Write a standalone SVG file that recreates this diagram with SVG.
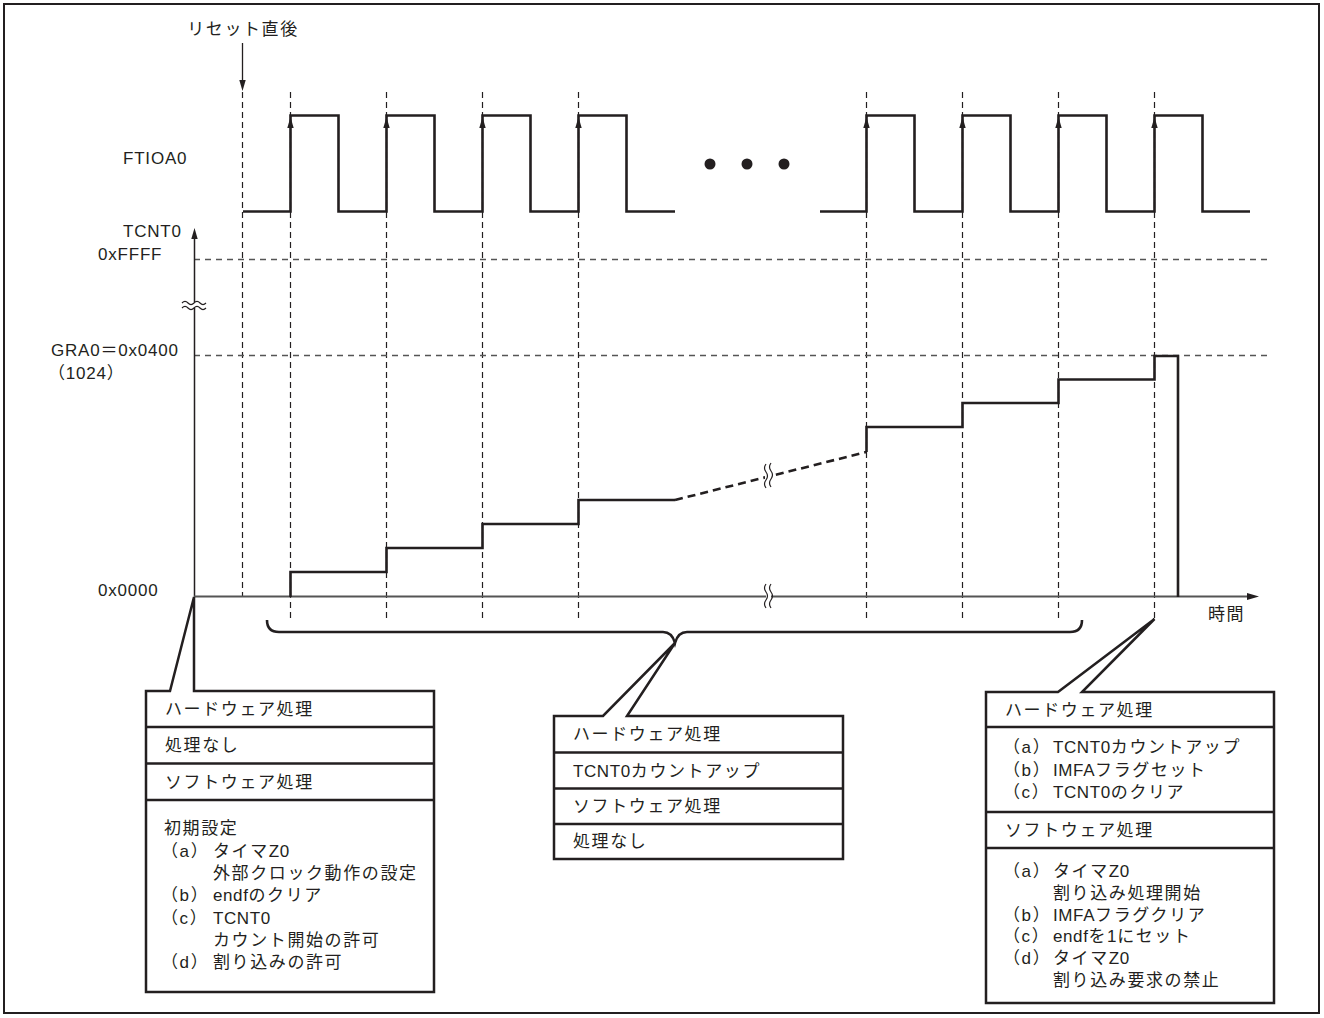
<svg xmlns="http://www.w3.org/2000/svg" width="1324" height="1018" viewBox="0 0 1324 1018">
<style>
.frame{fill:none;stroke:#231f20;stroke-width:2}
.wave{fill:none;stroke:#231f20;stroke-width:2.6;stroke-linejoin:miter}
.vd{fill:none;stroke:#231f20;stroke-width:1.2;stroke-dasharray:6 4}
.hd{fill:none;stroke:#555;stroke-width:1.4;stroke-dasharray:6 5}
.axis{fill:none;stroke:#231f20;stroke-width:1.5}
.xaxis{fill:none;stroke:#555;stroke-width:2}
.box{fill:#fff;stroke:#231f20;stroke-width:2.5;stroke-linejoin:miter}
.sep{stroke:#231f20;stroke-width:2.5}
.lbl{font-family:"Liberation Sans","Noto Sans CJK JP",sans-serif;font-size:17px;letter-spacing:0.8px;fill:#231f20}
.jp{font-family:"Liberation Sans","Noto Sans CJK JP",sans-serif;font-size:17px;letter-spacing:1.6px;fill:#231f20}
.l{font-size:17px;letter-spacing:0.6px}
.ah{fill:#231f20}
</style>
<defs>
<path id="up" d="M0,0 L-3.2,11 L3.2,11 Z" class="ah"/>
</defs>
<rect x="4" y="4" width="1315" height="1009" class="frame"/>

<g id="gridlines">
<line x1="242.5" y1="92" x2="242.5" y2="596" class="vd"/>
<line x1="290.5" y1="92" x2="290.5" y2="618" class="vd"/>
<line x1="386.5" y1="92" x2="386.5" y2="618" class="vd"/>
<line x1="482.5" y1="92" x2="482.5" y2="618" class="vd"/>
<line x1="578.5" y1="92" x2="578.5" y2="618" class="vd"/>
<line x1="866.5" y1="92" x2="866.5" y2="618" class="vd"/>
<line x1="962.5" y1="92" x2="962.5" y2="618" class="vd"/>
<line x1="1058.5" y1="92" x2="1058.5" y2="618" class="vd"/>
<line x1="1154.5" y1="92" x2="1154.5" y2="618" class="vd"/>
<line x1="194" y1="259.5" x2="1270" y2="259.5" class="hd"/>
<line x1="194" y1="355.5" x2="1270" y2="355.5" class="hd"/>
</g>

<g id="reset">
<text x="243" y="35" class="jp" text-anchor="middle">リセット直後</text>
<line x1="242.5" y1="43" x2="242.5" y2="82" stroke="#231f20" stroke-width="1.3"/>
<path d="M242.5,91 L239.3,80 L245.7,80 Z" class="ah"/>
</g>

<g id="ftioa0">
<text x="123" y="164" class="lbl">FTIOA0</text>
<polyline class="wave" points="243,211.5 290.5,211.5 290.5,115.5 338.5,115.5 338.5,211.5 386.5,211.5 386.5,115.5 434.5,115.5 434.5,211.5 482.5,211.5 482.5,115.5 530.5,115.5 530.5,211.5 578.5,211.5 578.5,115.5 626.5,115.5 626.5,211.5 675,211.5"/>
<polyline class="wave" points="820,211.5 866.5,211.5 866.5,115.5 914.5,115.5 914.5,211.5 962.5,211.5 962.5,115.5 1010.5,115.5 1010.5,211.5 1058.5,211.5 1058.5,115.5 1106.5,115.5 1106.5,211.5 1154.5,211.5 1154.5,115.5 1202.5,115.5 1202.5,211.5 1250,211.5"/>
<use href="#up" x="290.5" y="117"/>
<use href="#up" x="386.5" y="117"/>
<use href="#up" x="482.5" y="117"/>
<use href="#up" x="578.5" y="117"/>
<use href="#up" x="866.5" y="117"/>
<use href="#up" x="962.5" y="117"/>
<use href="#up" x="1058.5" y="117"/>
<use href="#up" x="1154.5" y="117"/>
<circle cx="710" cy="164" r="5.5" fill="#231f20"/>
<circle cx="747" cy="164" r="5.5" fill="#231f20"/>
<circle cx="784" cy="164" r="5.5" fill="#231f20"/>
</g>

<g id="axes">
<text x="123" y="237" class="lbl">TCNT0</text>
<text x="98" y="260" class="lbl">0xFFFF</text>
<text x="51" y="356" class="lbl">GRA0＝0x0400</text>
<text x="48" y="379" class="lbl" letter-spacing="0">（1024）</text>
<text x="98" y="596" class="lbl">0x0000</text>
<text x="1208" y="620" class="jp">時間</text>
<line x1="194.5" y1="236" x2="194.5" y2="597" class="axis"/>
<path d="M194.5,228 L191.3,239 L197.7,239 Z" class="ah"/>
<rect x="180" y="302" width="30" height="6" fill="#fff"/>
<path d="M182,303 q3,-3 6,0 t6,0 t6,0 t6,0" fill="none" stroke="#231f20" stroke-width="1.2"/>
<path d="M182,308 q3,-3 6,0 t6,0 t6,0 t6,0" fill="none" stroke="#231f20" stroke-width="1.2"/>
<line x1="194" y1="596.5" x2="1250" y2="596.5" class="xaxis"/>
<path d="M1259,596.5 L1247,593 L1247,600 Z" fill="#231f20"/>
<rect x="766" y="584" width="5" height="24" fill="#fff"/>
<path d="M766,584 q-3,4 0,8 t0,8 t0,8" fill="none" stroke="#231f20" stroke-width="1.2"/>
<path d="M771,584 q-3,4 0,8 t0,8 t0,8" fill="none" stroke="#231f20" stroke-width="1.2"/>
</g>

<g id="tcnt0-steps">
<polyline class="wave" points="290.5,597 290.5,572 386.5,572 386.5,548 482.5,548 482.5,524 578.5,524 578.5,500 675,500"/>
<line x1="675" y1="500" x2="866.5" y2="452" stroke="#231f20" stroke-width="2.6" stroke-dasharray="8 5"/>
<rect x="765" y="463" width="6" height="28" fill="#fff"/>
<path d="M766,464 q-3,4 0,8 t0,8 t0,8" fill="none" stroke="#231f20" stroke-width="1.2"/>
<path d="M771,463 q-3,4 0,8 t0,8 t0,8" fill="none" stroke="#231f20" stroke-width="1.2"/>
<polyline class="wave" points="866.5,452 866.5,427 962.5,427 962.5,403 1058.5,403 1058.5,379.5 1154.5,379.5 1154.5,356 1178,356 1178,597"/>
</g>

<g id="connectors">
<path d="M267,620 Q267,632 279,632 H663 Q672,632 675,643 Q678,632 687,632 H1070 Q1082,632 1082,620" class="wave"/>
</g>

<g id="box-left">
<path class="box" d="M146,691 H170 L194,597 L194,691 H434 V992 H146 Z"/>
<line x1="146" y1="727" x2="434" y2="727" class="sep"/>
<line x1="146" y1="763.5" x2="434" y2="763.5" class="sep"/>
<line x1="146" y1="800" x2="434" y2="800" class="sep"/>
<text x="165" y="715" class="jp">ハードウェア処理</text>
<text x="165" y="751" class="jp">処理なし</text>
<text x="165" y="788" class="jp">ソフトウェア処理</text>
<text x="164" y="834" class="jp">初期設定</text>
<text x="161" y="857" class="jp" letter-spacing="0">（a）</text>
<text x="213" y="857" class="jp">タイマ<tspan class="l">Z0</tspan></text>
<text x="213" y="879" class="jp">外部クロック動作の設定</text>
<text x="161" y="901" class="jp" letter-spacing="0">（b）</text>
<text x="213" y="901" class="jp"><tspan class="l">endf</tspan>のクリア</text>
<text x="161" y="924" class="jp" letter-spacing="0">（c）</text>
<text x="213" y="924" class="jp"><tspan class="l">TCNT0</tspan></text>
<text x="213" y="946" class="jp">カウント開始の許可</text>
<text x="161" y="968" class="jp" letter-spacing="0">（d）</text>
<text x="213" y="968" class="jp">割り込みの許可</text>
</g>

<g id="box-center">
<path class="box" d="M554,716 H603 L675,643 L627,716 H843 V859 H554 Z"/>
<line x1="554" y1="752.5" x2="843" y2="752.5" class="sep"/>
<line x1="554" y1="788.5" x2="843" y2="788.5" class="sep"/>
<line x1="554" y1="824" x2="843" y2="824" class="sep"/>
<text x="573" y="740" class="jp">ハードウェア処理</text>
<text x="573" y="777" class="jp"><tspan class="l">TCNT0</tspan>カウントアップ</text>
<text x="573" y="812" class="jp">ソフトウェア処理</text>
<text x="573" y="847" class="jp">処理なし</text>
</g>

<g id="box-right">
<path class="box" d="M986,692 H1058 L1154.5,619 L1082,692 H1274 V1003 H986 Z"/>
<line x1="986" y1="727" x2="1274" y2="727" class="sep"/>
<line x1="986" y1="812" x2="1274" y2="812" class="sep"/>
<line x1="986" y1="848" x2="1274" y2="848" class="sep"/>
<text x="1005" y="716" class="jp">ハードウェア処理</text>
<text x="1003" y="753" class="jp" letter-spacing="0">（a）</text>
<text x="1053" y="753" class="jp"><tspan class="l">TCNT0</tspan>カウントアップ</text>
<text x="1003" y="776" class="jp" letter-spacing="0">（b）</text>
<text x="1053" y="776" class="jp"><tspan class="l">IMFA</tspan>フラグセット</text>
<text x="1003" y="798" class="jp" letter-spacing="0">（c）</text>
<text x="1053" y="798" class="jp"><tspan class="l">TCNT0</tspan>のクリア</text>
<text x="1005" y="836" class="jp">ソフトウェア処理</text>
<text x="1003" y="877" class="jp" letter-spacing="0">（a）</text>
<text x="1053" y="877" class="jp">タイマ<tspan class="l">Z0</tspan></text>
<text x="1053" y="899" class="jp">割り込み処理開始</text>
<text x="1003" y="921" class="jp" letter-spacing="0">（b）</text>
<text x="1053" y="921" class="jp"><tspan class="l">IMFA</tspan>フラグクリア</text>
<text x="1003" y="942" class="jp" letter-spacing="0">（c）</text>
<text x="1053" y="942" class="jp"><tspan class="l">endf</tspan>を<tspan class="l">1</tspan>にセット</text>
<text x="1003" y="964" class="jp" letter-spacing="0">（d）</text>
<text x="1053" y="964" class="jp">タイマ<tspan class="l">Z0</tspan></text>
<text x="1053" y="986" class="jp">割り込み要求の禁止</text>
</g>
</svg>
